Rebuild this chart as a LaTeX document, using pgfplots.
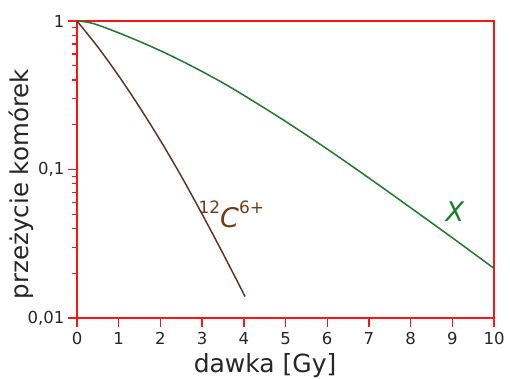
\documentclass[border=0pt]{standalone}
\usepackage{fontspec}
\setmainfont{DejaVu Sans}
\usepackage{pgfplots}
\pgfplotsset{compat=1.18}
\definecolor{xgreen}{RGB}{30,120,45}
\definecolor{xgreentext}{RGB}{20,128,40}
\definecolor{cbrown}{RGB}{95,55,40}
\definecolor{cbrowntext}{RGB}{115,60,25}
\definecolor{fred}{RGB}{255,20,20}
\begin{document}
\begin{tikzpicture}
\begin{axis}[
  scale only axis,
  width=417pt, height=297pt,
  ymode=log,
  xmin=0, xmax=10, ymin=0.01, ymax=1,
  xtick={0,1,...,10},
  ytick={0.01,0.1,1},
  yticklabels={{0,01},{0,1},{1}},
  minor ytick={0.02,0.03,0.04,0.05,0.06,0.07,0.08,0.09,0.2,0.3,0.4,0.5,0.6,0.7,0.8,0.9},
  xtick pos=bottom, ytick pos=left,
  tick align=outside,
  major tick length=9pt, minor tick length=5pt,
  axis line style={fred, line width=1.5pt},
  every tick/.style={fred, line width=1.4pt},
  every minor tick/.style={fred, line width=1.2pt},
  /pgf/number format/assume math mode=true,
  tick label style={font=\fontsize{16.5}{18}\selectfont, text=black!85},
  xticklabel style={yshift=-2pt},
  xlabel={dawka [Gy]},
  ylabel={przeżycie komórek},
  xlabel style={font=\fontsize{25}{28}\selectfont, text=black!85, at={(axis description cs:0.451,0)}, anchor=base, yshift=-54pt},
  ylabel style={font=\fontsize{24.5}{27}\selectfont, text=black!85, at={(axis description cs:-0.117,0.451)}, anchor=base},
  clip=false,
]
\addplot[xgreen, line width=1.5pt, smooth] coordinates {
  (0,1) (0.25,0.982) (0.5,0.940) (1,0.832) (1.5,0.728) (2,0.631) (2.5,0.540) (3,0.457) (3.5,0.383) (4,0.316)
  (5,0.211) (6,0.1374) (7,0.0877) (8,0.0553) (9,0.0347) (10,0.0216)
};
\addplot[cbrown, line width=1.5pt, smooth] coordinates {
  (0,1) (0.5,0.668) (1,0.427) (1.5,0.263) (2,0.1567) (2.5,0.0902) (3,0.0501) (3.5,0.0272) (4.03,0.01396)
};
\node[text=xgreentext, font=\fontsize{27}{27}\selectfont\itshape] at (axis cs:9.06,0.0517) {X};
\node[text=cbrowntext, font=\fontsize{27}{27}\selectfont] at (axis cs:3.70,0.05)
  {\raisebox{0.5em}{\fontsize{17}{17}\selectfont 12}\textit{C}\raisebox{0.5em}{\fontsize{17}{17}\selectfont 6+}};
\end{axis}
\pgfresetboundingbox
\path[use as bounding box] ([shift={(-77pt,-60pt)}]current axis.south west) rectangle ([shift={(16pt,21pt)}]current axis.north east);
\end{tikzpicture}
\end{document}
